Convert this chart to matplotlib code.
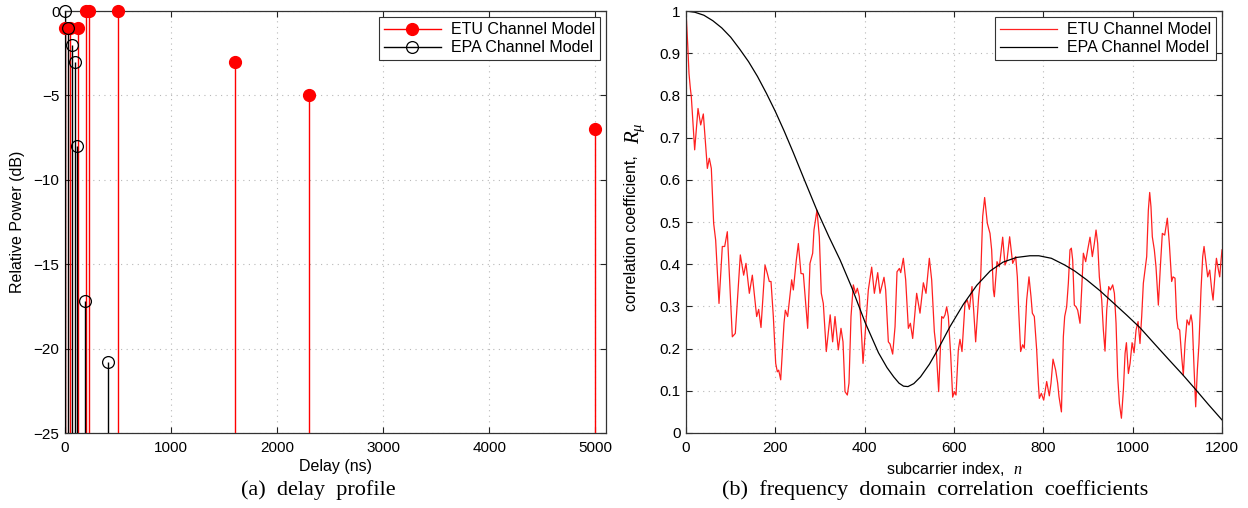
import matplotlib
matplotlib.use("Agg")
import matplotlib.pyplot as plt

# ---------------- data ----------------
etu_delay_ns = [0, 50, 120, 200, 230, 500, 1600, 2300, 5000]
etu_power_db = [-1, -1, -1, 0, 0, 0, -3, -5, -7]
epa_delay_ns = [0, 30, 70, 90, 110, 190, 410]
epa_power_db = [0, -1, -2, -3, -8, -17.2, -20.8]

etu_n = [0, 3.7, 6.7, 9.7, 11.9, 19.4, 26.9, 32.9, 38.8, 47.8, 52.2, 56.7, 61.9, 66.4,
         73.9, 81.3, 86.6, 92.5, 103.7, 110.4, 121.6, 129.1, 134.3, 141.8, 148.5, 158.2,
         162.7, 167.9, 176.9, 182.1, 186.5, 190.3, 195.5, 200.8, 204.5, 207.5, 212.0,
         219.4, 222.4, 227.6, 236.6, 240.3, 247.0, 251.5, 257.4, 262.7, 272.4, 277.6,
         283.6, 286.5, 293.2, 298.5, 302.9, 307.4, 314.1, 322.8, 328.3,
         333.6, 341.0, 347.0, 351.5, 356.0, 361.2, 364.9, 369.4, 374.6, 379.8, 383.6,
         388.1, 393.3, 396.3, 402.3, 408.2, 415.7, 421.7, 429.2, 434.3, 443.3, 447.0,
         453.0, 456.8, 462.7, 468.0, 472.4, 477.7, 480.7, 486.6, 491.8, 497.8, 502.3,
         507.5, 516.4, 523.9, 531.4, 537.3, 544.8, 550.0, 556.0, 559.7, 565.7, 572.4,
         576.1, 579.9, 583.6, 587.3, 592.6, 597.0, 600.8, 604.5, 609.7, 613.4, 617.9,
         624.6, 629.8, 634.3, 640.3, 644.0, 648.5, 655.2, 659.7, 664.2, 668.6, 674.6,
         680.6, 684.3, 688.1, 690.3, 696.3, 701.5, 709.0, 714.2, 718.7, 724.6, 731.4,
         738.1, 741.8, 744.8, 749.2, 753.7, 757.4, 762.7, 767.9, 772.4, 775.4, 779.8,
         785.1, 788.8, 791.0, 795.5, 800.8, 807.5, 813.4, 817.2, 821.7, 827.6, 832.1,
         835.1, 840.5, 844.8, 847.8, 852.2, 856.0, 859.7, 862.7, 865.7, 869.4, 873.2,
         876.9, 882.1, 885.8, 889.6, 894.8, 899.3, 904.5, 909.7, 914.2, 918.0, 921.7,
         925.4, 930.7, 934.4, 938.1, 941.9, 946.4, 950.1, 955.3, 959.1, 962.8, 966.5,
         970.3, 974.8, 979.2, 983.0, 986.0, 990.4, 994.2, 998.7, 1003.1, 1007.6, 1012.1,
         1016.4, 1020.2, 1023.9, 1027.6, 1031.4, 1035.1, 1038.1, 1041.0, 1044.0, 1048.5,
         1052.2, 1057.5, 1062.0, 1066.4, 1071.7, 1077.6, 1082.1, 1087.3, 1090.3, 1094.8,
         1098.5, 1101.5, 1105.3, 1109.7, 1113.4, 1117.2, 1121.7, 1126.2, 1130.6, 1133.6,
         1137.3, 1141.1, 1144.8, 1148.5, 1153.0, 1156.8, 1159.8, 1164.3, 1168.0, 1172.5,
         1177.0, 1180.0, 1184.5, 1187.5, 1192.0, 1194.9, 1197.9, 1200]
etu_r = [1.0, 0.923, 0.852, 0.817, 0.797, 0.671, 0.769, 0.730, 0.756, 0.627, 0.651, 0.627,
         0.497, 0.457, 0.307, 0.442, 0.442, 0.477, 0.228, 0.236, 0.422, 0.374, 0.402, 0.331,
         0.374, 0.276, 0.293, 0.25, 0.398, 0.378, 0.359, 0.359, 0.276, 0.165, 0.145, 0.149,
         0.126, 0.260, 0.291, 0.276, 0.363, 0.339, 0.410, 0.449, 0.378, 0.377, 0.248, 0.402,
         0.426, 0.481, 0.528, 0.465, 0.331, 0.307, 0.193, 0.280, 0.216,
         0.276, 0.197, 0.248, 0.216, 0.098, 0.090, 0.118, 0.276, 0.351, 0.331, 0.343,
         0.323, 0.228, 0.165, 0.252, 0.339, 0.393, 0.331, 0.380, 0.331, 0.369, 0.339,
         0.216, 0.211, 0.187, 0.252, 0.382, 0.390, 0.380, 0.414, 0.363, 0.248, 0.260,
         0.224, 0.331, 0.284, 0.356, 0.331, 0.414, 0.363, 0.240, 0.205, 0.098, 0.276,
         0.272, 0.280, 0.299, 0.276, 0.185, 0.085, 0.098, 0.090, 0.197, 0.222, 0.193,
         0.307, 0.315, 0.293, 0.347, 0.291, 0.216, 0.323, 0.367, 0.513, 0.558, 0.497,
         0.473, 0.434, 0.339, 0.323, 0.406, 0.394, 0.464, 0.398, 0.410, 0.465, 0.402,
         0.418, 0.370, 0.291, 0.193, 0.209, 0.201, 0.315, 0.370, 0.323, 0.284, 0.276,
         0.197, 0.118, 0.082, 0.094, 0.078, 0.122, 0.088, 0.118, 0.175, 0.149, 0.118,
         0.086, 0.050, 0.228, 0.276, 0.299, 0.355, 0.434, 0.438, 0.410, 0.303, 0.299,
         0.291, 0.260, 0.339, 0.426, 0.406, 0.434, 0.464, 0.418, 0.449, 0.481, 0.449,
         0.370, 0.315, 0.244, 0.194, 0.291, 0.347, 0.339, 0.351, 0.331, 0.260, 0.133,
         0.070, 0.035, 0.102, 0.189, 0.214, 0.141, 0.165, 0.214, 0.190, 0.244, 0.264,
         0.212, 0.276, 0.355, 0.386, 0.418, 0.528, 0.570, 0.536, 0.465, 0.434,
         0.394, 0.303, 0.394, 0.473, 0.469, 0.509, 0.449, 0.359, 0.370, 0.367,
         0.272, 0.248, 0.244, 0.181, 0.137, 0.212, 0.268, 0.256, 0.280, 0.260,
         0.157, 0.062, 0.149, 0.212, 0.339, 0.418, 0.442, 0.402, 0.370, 0.386,
         0.339, 0.315, 0.378, 0.414, 0.386, 0.370, 0.410, 0.434]

epa_n = [0, 20, 40, 60, 80, 100, 120, 140, 160, 180, 200, 220, 240, 265, 293, 320, 345,
         371, 401, 431, 450, 465, 477, 487, 497, 510, 525, 545, 565, 591, 621, 651, 681,
         710, 740, 770, 790, 818, 848, 870, 897, 927, 956, 986, 1016, 1050, 1080, 1113,
         1141, 1170, 1200]
epa_r = [1.0, 0.997, 0.99, 0.977, 0.96, 0.938, 0.91, 0.88, 0.845, 0.805, 0.762, 0.715,
         0.665, 0.6, 0.528, 0.465, 0.41, 0.345, 0.262, 0.19, 0.155, 0.133, 0.118, 0.111,
         0.11, 0.117, 0.133, 0.163, 0.2, 0.252, 0.305, 0.35, 0.384, 0.405, 0.416, 0.42,
         0.42, 0.414, 0.398, 0.384, 0.363, 0.337, 0.309, 0.28, 0.25, 0.21, 0.175, 0.137,
         0.103, 0.067, 0.031]

# ---------------- style ----------------
plt.rcParams['font.family'] = ['Liberation Sans', 'DejaVu Sans']
plt.rcParams['mathtext.fontset'] = 'custom'
plt.rcParams['mathtext.it'] = 'Liberation Serif:italic'
plt.rcParams['mathtext.rm'] = 'Liberation Serif'
plt.rcParams['mathtext.sf'] = 'Liberation Sans'
plt.rcParams['font.size'] = 11.5

fig = plt.figure(figsize=(12.48, 5.08), dpi=100)
ax1 = fig.add_axes([65/1248, 1-433/508, 541/1248, 422/508])
ax2 = fig.add_axes([686/1248, 1-433/508, 536/1248, 422/508])

grid_kw = dict(color='#b8b8b8', linestyle=(0, (1, 4)), linewidth=0.8)

for ax in (ax1, ax2):
    ax.tick_params(direction='in', top=True, right=True, length=4, width=0.8,
                   labelsize=11, colors='#222222', labelcolor='black')
    ax.tick_params(axis='x', pad=6)
    ax.tick_params(axis='y', pad=4)
    for s in ax.spines.values():
        s.set_color('#333333')
        s.set_linewidth(0.9)
    ax.grid(True, **grid_kw)
    ax.set_axisbelow(True)

# ----- (a) delay profile -----
base = -25
ax1.vlines(etu_delay_ns, base, etu_power_db, colors='red', linewidth=1.0, zorder=3)
ax1.plot(etu_delay_ns, etu_power_db, 'o', color='red', markersize=8.5, clip_on=False,
         zorder=4)
ax1.vlines(epa_delay_ns, base, epa_power_db, colors='black', linewidth=1.0, zorder=3)
ax1.plot(epa_delay_ns, epa_power_db, 'o', markerfacecolor='none', markeredgecolor='black',
         markersize=8.5, markeredgewidth=0.9, clip_on=False, zorder=5)
h1, = ax1.plot([], [], '-o', color='red', markersize=8.5, linewidth=1.0)
h2, = ax1.plot([], [], '-o', color='black', markerfacecolor='none', markersize=8.5,
               linewidth=1.0, markeredgewidth=0.9)
ax1.set_xlim(0, 5100)
ax1.set_ylim(-25, 0)
ax1.set_xticks([0, 1000, 2000, 3000, 4000, 5000])
ax1.set_yticks([-25, -20, -15, -10, -5, 0])
ax1.set_xlabel('Delay (ns)', labelpad=3)
ax1.set_ylabel('Relative Power (dB)', labelpad=6)
leg1 = ax1.legend([h1, h2], ['ETU Channel Model', 'EPA Channel Model'], loc='upper right',
                  fancybox=False, edgecolor='#333333', framealpha=1, fontsize=11.5,
                  borderaxespad=0.4, handlelength=3.6, borderpad=0.3, labelspacing=0.2,
                  handletextpad=0.6)
leg1.get_frame().set_linewidth(0.8)

# ----- (b) correlation coefficients -----
ax2.plot(etu_n, etu_r, color='#ff2020', linewidth=0.9, label='ETU Channel Model')
ax2.plot(epa_n, epa_r, color='black', linewidth=0.9, label='EPA Channel Model')
ax2.set_xlim(0, 1200)
ax2.set_ylim(0, 1)
ax2.set_xticks([0, 200, 400, 600, 800, 1000, 1200])
ax2.set_yticks([0, 0.1, 0.2, 0.3, 0.4, 0.5, 0.6, 0.7, 0.8, 0.9, 1])
ax2.set_yticklabels(['0', '0.1', '0.2', '0.3', '0.4', '0.5', '0.6', '0.7', '0.8', '0.9', '1'])
ax2.set_xlabel(r'subcarrier index,  $n$', labelpad=3)
ax2.set_ylabel('correlation coefficient,')
ax2.yaxis.set_label_coords(-0.0877, 0.474)
ax2.text(-0.095, 0.685, r'$R_{\mu}$', transform=ax2.transAxes, rotation=90,
         ha='center', va='bottom', fontsize=15)
leg2 = ax2.legend(loc='upper right', fancybox=False, edgecolor='#333333', framealpha=1,
                  fontsize=11.5, borderaxespad=0.4, handlelength=3.6, borderpad=0.3,
                  labelspacing=0.2, handletextpad=0.6)
leg2.get_frame().set_linewidth(0.8)

# captions
cap_kw = dict(ha='center', va='center', fontsize=16, family=['Liberation Serif', 'DejaVu Serif'])
fig.text(318 / 1248, 1 - 490 / 508, '(a)  delay  profile', **cap_kw)
fig.text(935 / 1248, 1 - 490 / 508,
         '(b)  frequency  domain  correlation  coefficients', **cap_kw)

fig.savefig('out.png', dpi=100)
